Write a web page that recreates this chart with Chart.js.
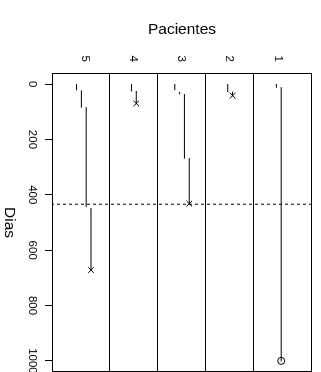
<!DOCTYPE html>
<html lang="es">
<head>
<meta charset="utf-8">
<title>Seguimiento de pacientes</title>
<script src="https://cdn.jsdelivr.net/npm/chart.js@4/dist/chart.umd.min.js"></script>
<style>
  html, body { margin: 0; padding: 0; background: #fff; }
  #marco { position: relative; width: 321px; height: 372px; overflow: hidden; }
  /* the plot is laid out with Dias across and then turned a quarter turn clockwise */
  #grafico { position: absolute; left: 0; top: 0; transform-origin: 0 0;
             transform: translate(321px, 0) rotate(90deg); }
</style>
</head>
<body>
<div id="marco"><canvas id="grafico" width="372" height="321"></canvas></div>
<script>
// Pacientes (categorías del eje)
const pacientes = [1, 2, 3, 4, 5];
const separadores = [1.5, 2.5, 3.5, 4.5];

// Intervalos de seguimiento: paciente, carril dentro de su franja, inicio y fin (días)
const intervaloPaciente = [1, 1, 2, 2, 3, 3, 3, 3, 4, 4, 5, 5, 5, 5];
const intervaloCarril   = [1.03, 0.93, 2.04, 1.94, 3.14, 3.04, 2.94, 2.84, 4.04, 3.94, 5.18, 5.08, 4.98, 4.88];
const intervaloInicio   = [0, 12, 0, 28, 0, 29, 36, 268, 0, 25, 0, 24, 84, 448];
const intervaloFin      = [12, 1000, 28, 42, 21, 36, 268, 432, 25, 70, 21, 84, 443, 672];

// Desenlace al final del seguimiento de cada paciente
const finPaciente = [1, 2, 3, 4, 5];
const finDia      = [1000, 42, 432, 70, 672];
const finCarril   = [0.93, 1.94, 2.84, 3.94, 4.88];
const finTipo     = ['censura', 'muerte', 'muerte', 'muerte', 'muerte'];

// Día de corte marcado con línea discontinua
const diaCorte = 434;

// Marcas del eje de días
const diasTicks = [0, 200, 400, 600, 800, 1000];

const rangoDias = [-40, 1040];
const rangoPacientes = [0.29, 5.69];
const fuente = '"Liberation Sans", Arial, Helvetica, sans-serif';

const conjuntos = intervaloPaciente.map((p, i) => ({
  label: 'Paciente ' + p,
  data: [{ x: intervaloInicio[i], y: intervaloCarril[i] },
         { x: intervaloFin[i], y: intervaloCarril[i] }],
  showLine: true,
  borderColor: '#000',
  borderWidth: 1,
  pointRadius: 0,
  borderCapStyle: 'round'
}));

conjuntos.push({
  label: 'Corte',
  data: [{ x: diaCorte, y: rangoPacientes[0] }, { x: diaCorte, y: rangoPacientes[1] }],
  showLine: true,
  borderColor: '#000',
  borderWidth: 1,
  borderDash: [3, 3],
  pointRadius: 0
});

conjuntos.push({
  label: 'Desenlace',
  data: finPaciente.map((p, i) => ({ x: finDia[i], y: finCarril[i] })),
  showLine: false,
  pointStyle: finTipo.map(t => t === 'censura' ? 'circle' : 'crossRot'),
  pointRadius: finTipo.map(t => t === 'censura' ? 3.5 : 4),
  pointBorderColor: '#000',
  pointBackgroundColor: 'rgba(0,0,0,0)',
  pointBorderWidth: 1
});

// Recuadro del área de trazado
const recuadro = {
  id: 'recuadro',
  afterDatasetsDraw(chart) {
    const { ctx, chartArea: a } = chart;
    ctx.save();
    ctx.strokeStyle = '#000';
    ctx.lineWidth = 1;
    ctx.strokeRect(a.left + 0.5, a.top + 0.5, a.right - a.left - 1, a.bottom - a.top - 1);
    ctx.restore();
  }
};

function sinRelleno(s) {
  s.paddingLeft = 0; s.paddingRight = 0; s.paddingTop = 0; s.paddingBottom = 0;
}

new Chart(document.getElementById('grafico'), {
  type: 'scatter',
  data: { datasets: conjuntos },
  plugins: [recuadro],
  options: {
    responsive: false,
    animation: false,
    devicePixelRatio: 1,
    layout: { autoPadding: false, padding: { top: 9, right: 0, bottom: 0, left: 0 } },
    plugins: { legend: { display: false }, tooltip: { enabled: false } },
    scales: {
      x: {
        type: 'linear',
        position: 'bottom',
        min: rangoDias[0],
        max: rangoDias[1],
        afterBuildTicks: s => { s.ticks = diasTicks.map(v => ({ value: v })); },
        afterFit: s => { s.height = 52; sinRelleno(s); },
        border: { display: false },
        grid: { drawOnChartArea: false, drawTicks: true, tickLength: 7, color: '#000', lineWidth: 1 },
        ticks: { color: '#000', padding: 6, maxRotation: 0, autoSkip: false,
                 font: { family: fuente, size: 11.5 },
                 callback: v => String(v) },
        title: { display: true, text: 'Dias', color: '#000',
                 font: { family: fuente, size: 15.5 }, padding: { top: 0, bottom: 0 } }
      },
      y: {
        type: 'linear',
        position: 'left',
        reverse: true,
        min: rangoPacientes[0],
        max: rangoPacientes[1],
        afterBuildTicks: s => {
          s.ticks = pacientes.concat(separadores).sort((a, b) => a - b).map(v => ({ value: v }));
        },
        afterFit: s => { s.width = 73; sinRelleno(s); },
        border: { display: false },
        grid: {
          drawTicks: false,
          lineWidth: 1,
          color: c => (c.tick && separadores.includes(c.tick.value)) ? '#000' : 'rgba(0,0,0,0)'
        },
        ticks: {
          color: '#000', padding: 11, autoSkip: false,
          font: { family: fuente, size: 11.5 },
          callback: v => pacientes.includes(v) ? String(v) : ''
        },
        title: { display: true, text: 'Pacientes', color: '#000',
                 font: { family: fuente, size: 15.5 }, padding: { top: 20, bottom: 0 } }
      }
    }
  }
});
</script>
</body>
</html>
